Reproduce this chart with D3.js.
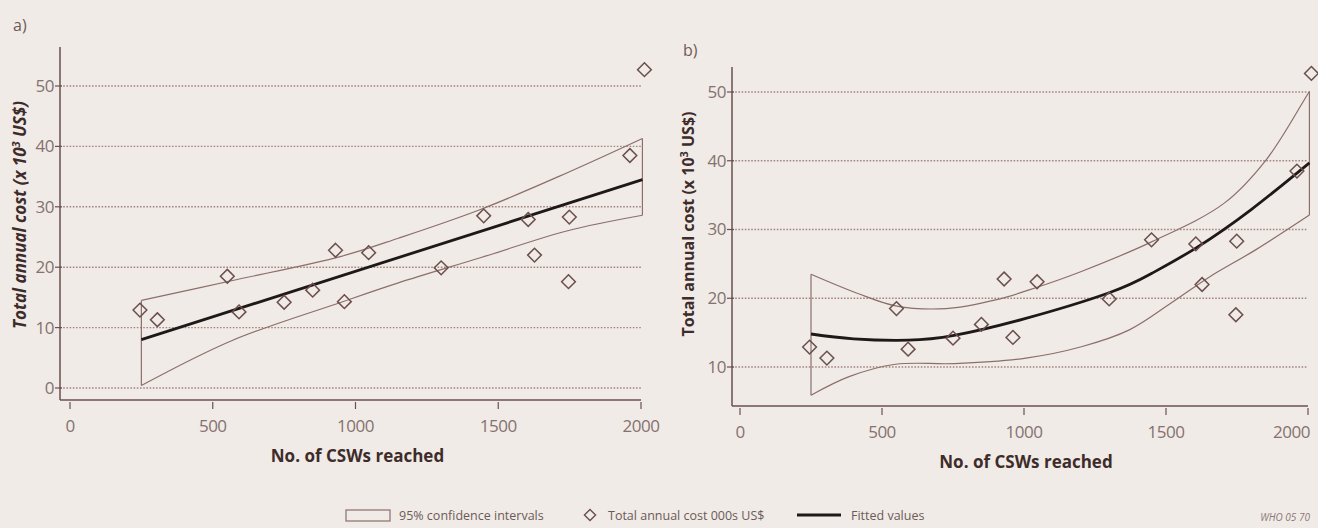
<!DOCTYPE html>
<html>
<head>
<meta charset="utf-8">
<script src="https://cdn.jsdelivr.net/npm/d3@7"></script>
<style>
  body { margin: 0; background: #f0ebe6; }
  svg { display: block; }
  text { font-family: "Open Sans", Lato, sans-serif; }
</style>
</head>
<body>
<div id="chart"></div>
<script>
// Data
var cswReached = [245, 306, 551, 592, 750, 850, 930, 961, 1046, 1300, 1449, 1605, 1627, 1749, 1746, 1961, 2012];
var annualCost = [12.9, 11.3, 18.5, 12.6, 14.2, 16.2, 22.8, 14.3, 22.4, 19.9, 28.5, 27.9, 22.0, 28.3, 17.6, 38.5, 52.7];

// a) linear fit + 95% CI
var fitAx = [250, 2005];
var fitAy = [8.0, 34.5];
var ciAx = [250, 570, 950, 1150, 1440, 1740, 2005];
var ciAupper = [14.5, 17.8, 21.8, 24.8, 29.6, 35.6, 41.3];
var ciAlower = [0.4, 7.9, 14.2, 17.4, 21.6, 26.0, 28.6];

// b) cubic fit + 95% CI
var fitBx = [250, 400, 592, 754, 1000, 1300, 1449, 1605, 1800, 2005];
var fitBy = [14.8, 14.1, 13.9, 14.6, 17.0, 20.8, 23.6, 27.3, 32.9, 39.7];
var ciBupX = [250, 415, 548, 726, 904, 1046, 1202, 1449, 1704, 1852, 1986, 2005];
var ciBupper = [23.5, 20.7, 18.9, 18.5, 19.8, 21.6, 23.9, 28.2, 33.8, 40.1, 48.8, 50.1];
var ciBloX = [250, 384, 548, 755, 1007, 1202, 1371, 1518, 1653, 1814, 2005];
var ciBlower = [5.9, 8.6, 10.4, 10.5, 11.3, 12.95, 15.4, 19.3, 23.1, 27.0, 32.1];

var xTicks = [0, 500, 1000, 1500, 2000];
var yTicksA = [0, 10, 20, 30, 40, 50];
var yTicksB = [10, 20, 30, 40, 50];

var legendLabels = ["95% confidence intervals", "Total annual cost 000s US$", "Fitted values"];

var axisCol = "#6b514e";
var gridCol = "#a58582";
var tickTextCol = "#857170";
var ciCol = "#8c6e6a";

var svg = d3.select("#chart")
  .append("svg")
  .attr("width", 1318)
  .attr("height", 528);

svg.append("rect").attr("width", 1318).attr("height", 528).attr("fill", "#f0ebe6");

function zip(xs, ys) {
  return xs.map(function(x, i) { return [x, ys[i]]; });
}

function drawPanel(opt) {
  var x = d3.scaleLinear().domain([0, 2000]).range(opt.xRange);
  var y = d3.scaleLinear().domain([10, 50]).range(opt.yRange);
  var g = svg.append("g");

  // gridlines
  g.selectAll(".grid")
    .data(opt.yTicks)
    .enter()
    .append("line")
    .attr("x1", opt.axisX)
    .attr("x2", x(2000))
    .attr("y1", d => y(d))
    .attr("y2", d => y(d))
    .attr("stroke", gridCol)
    .attr("stroke-width", 1.4)
    .attr("stroke-dasharray", "1.6,1.6");

  // axes
  g.append("line")
    .attr("x1", opt.axisX).attr("x2", opt.axisX)
    .attr("y1", opt.axisTop).attr("y2", opt.axisY)
    .attr("stroke", axisCol).attr("stroke-width", 1.5);
  g.append("line")
    .attr("x1", opt.axisX).attr("x2", x(2000))
    .attr("y1", opt.axisY).attr("y2", opt.axisY)
    .attr("stroke", axisCol).attr("stroke-width", 1.5);

  // y ticks
  g.selectAll(".yt")
    .data(opt.yTicks)
    .enter()
    .append("line")
    .attr("x1", opt.axisX - 5).attr("x2", opt.axisX + 2)
    .attr("y1", d => y(d)).attr("y2", d => y(d))
    .attr("stroke", axisCol).attr("stroke-width", 1.2);
  g.selectAll(".ytl")
    .data(opt.yTicks)
    .enter()
    .append("text")
    .attr("x", opt.axisX - 6)
    .attr("y", d => y(d))
    .attr("dy", "0.35em")
    .attr("text-anchor", "end")
    .attr("font-size", "17px")
    .attr("letter-spacing", "-0.5px")
    .attr("fill", tickTextCol)
    .text(d => d);

  // x ticks
  g.selectAll(".xt")
    .data(xTicks)
    .enter()
    .append("line")
    .attr("x1", d => x(d)).attr("x2", d => x(d))
    .attr("y1", opt.axisY + 2).attr("y2", opt.axisY + 9)
    .attr("stroke", axisCol).attr("stroke-width", 1.2);
  g.selectAll(".xtl")
    .data(xTicks)
    .enter()
    .append("text")
    .attr("x", (d, i) => (opt.lastEnd && i === xTicks.length - 1) ? x(d) + 2 : x(d))
    .attr("y", opt.axisY + 32)
    .attr("text-anchor", (d, i) => (opt.lastEnd && i === xTicks.length - 1) ? "end" : "middle")
    .attr("font-size", "17px")
    .attr("letter-spacing", "-0.5px")
    .attr("fill", tickTextCol)
    .text(d => d);

  // CI band outline
  var line = d3.line().x(d => x(d[0])).y(d => y(d[1])).curve(d3.curveCatmullRom);
  var upper = zip(opt.ciUpX, opt.ciUp);
  var lower = zip(opt.ciLoX, opt.ciLo);
  g.append("path")
    .attr("d", line(upper))
    .attr("fill", "none").attr("stroke", ciCol).attr("stroke-width", 1.2);
  g.append("path")
    .attr("d", line(lower))
    .attr("fill", "none").attr("stroke", ciCol).attr("stroke-width", 1.2);
  // closing vertical edges
  [[upper[0], lower[0]], [upper[upper.length - 1], lower[lower.length - 1]]].forEach(function(p) {
    g.append("line")
      .attr("x1", x(p[0][0])).attr("x2", x(p[1][0]))
      .attr("y1", y(p[0][1])).attr("y2", y(p[1][1]))
      .attr("stroke", ciCol).attr("stroke-width", 1.2);
  });

  // fitted line
  var fitLine = d3.line().x(d => x(d[0])).y(d => y(d[1])).curve(d3.curveNatural);
  g.append("path")
    .attr("d", fitLine(zip(opt.fitX, opt.fitY)))
    .attr("fill", "none")
    .attr("stroke", "#1e1818")
    .attr("stroke-width", 2.8);

  // points
  g.selectAll(".pt")
    .data(zip(cswReached, annualCost))
    .enter()
    .append("path")
    .attr("d", d3.symbol().type(d3.symbolDiamond2).size(120))
    .attr("transform", d => `translate(${x(d[0])},${y(d[1])})`)
    .attr("fill", "none")
    .attr("stroke", "#6b4f4c")
    .attr("stroke-width", 1.5);

  // panel letter
  svg.append("text")
    .attr("x", opt.letterPos[0]).attr("y", opt.letterPos[1])
    .attr("font-size", "16px")
    .attr("fill", "#6d5a58")
    .text(opt.letter);

  // axis titles
  svg.append("text")
    .attr("x", (x(0) + x(2000)) / 2 + 2)
    .attr("y", opt.axisY + 62)
    .attr("text-anchor", "middle")
    .attr("font-size", "17px")
    .attr("font-weight", "bold")
    .attr("fill", "#3e2c2b")
    .text("No. of CSWs reached");

  var yt = svg.append("text")
    .attr("transform", `translate(${opt.yTitleX}, ${opt.yTitleY}) rotate(-90)`)
    .attr("text-anchor", "middle")
    .attr("font-size", opt.yTitleSize)
    .attr("font-weight", "bold")
    .attr("font-style", opt.italic ? "italic" : "normal")
    .attr("fill", "#3e2c2b");
  yt.append("tspan").text("Total annual cost (x 10");
  yt.append("tspan").attr("dy", -6).attr("font-size", "11px").text("3");
  yt.append("tspan").attr("dy", 6).text(" US$)");
}

drawPanel({
  xRange: [70, 641], yRange: [327.6, 86], yTicks: yTicksA,
  axisX: 60, axisY: 400, axisTop: 47,
  fitX: fitAx, fitY: fitAy,
  ciUpX: ciAx, ciUp: ciAupper, ciLoX: ciAx, ciLo: ciAlower,
  letter: "a)", letterPos: [13, 31],
  yTitleX: 26, yTitleY: 215, yTitleSize: "17px", italic: true, lastEnd: false
});

drawPanel({
  xRange: [740, 1308], yRange: [367, 92], yTicks: yTicksB,
  axisX: 732, axisY: 406, axisTop: 67,
  fitX: fitBx, fitY: fitBy,
  ciUpX: ciBupX, ciUp: ciBupper, ciLoX: ciBloX, ciLo: ciBlower,
  letter: "b)", letterPos: [683, 56],
  yTitleX: 694, yTitleY: 224, yTitleSize: "16px", italic: false, lastEnd: true
});

// legend
var leg = svg.append("g").attr("font-family", "Lato, sans-serif").attr("font-size", "12.5px");
leg.append("rect")
  .attr("x", 346).attr("y", 510).attr("width", 44).attr("height", 11)
  .attr("fill", "none").attr("stroke", ciCol).attr("stroke-width", 1.2);
leg.append("text").attr("x", 399).attr("y", 520).attr("fill", "#6d5a58").text(legendLabels[0]);
leg.append("path")
  .attr("d", d3.symbol().type(d3.symbolDiamond2).size(80))
  .attr("transform", "translate(590,515)")
  .attr("fill", "none").attr("stroke", "#6b4f4c").attr("stroke-width", 1.4);
leg.append("text").attr("x", 608).attr("y", 520).attr("fill", "#6d5a58").text(legendLabels[1]);
leg.append("line")
  .attr("x1", 797).attr("x2", 841).attr("y1", 515).attr("y2", 515)
  .attr("stroke", "#1e1818").attr("stroke-width", 3);
leg.append("text").attr("x", 851).attr("y", 520).attr("fill", "#6d5a58").text(legendLabels[2]);

svg.append("text")
  .attr("x", 1310).attr("y", 521)
  .attr("text-anchor", "end")
  .attr("font-family", "Lato, sans-serif")
  .attr("font-size", "10px")
  .attr("font-style", "italic")
  .attr("fill", "#8a7876")
  .text("WHO 05 70");
</script>
</body>
</html>
